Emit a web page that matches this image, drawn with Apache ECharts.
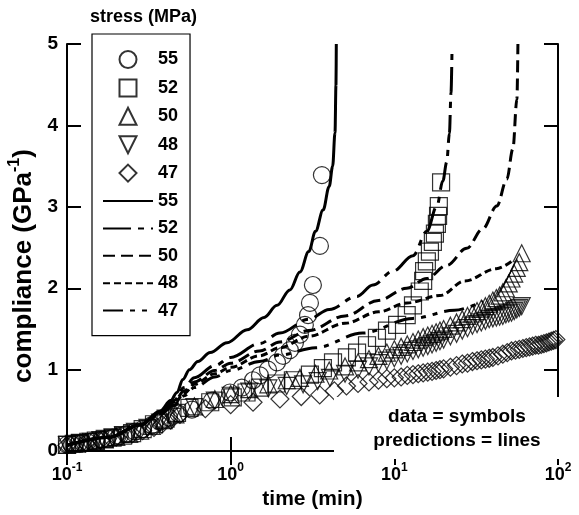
<!DOCTYPE html>
<html>
<head>
<meta charset="utf-8">
<script src="https://cdn.jsdelivr.net/npm/echarts@6/dist/echarts.min.js"></script>
<style>
  html, body { margin: 0; padding: 0; background: #fff; }
  #chart { width: 579px; height: 515px; }
</style>
</head>
<body>
<div id="chart"></div>
<script>
// Creep compliance vs. time for five stress levels: measured points and model curves.
const stressLevels = ['55', '52', '50', '48', '47'];
const xTicks = [0.1, 1, 10, 100];
const yTicks = [0, 1, 2, 3, 4, 5];

// measured compliance [time (min), compliance (GPa^-1)]
const data55 = [[0.100,0.08],[0.106,0.085],[0.112,0.09],[0.118,0.095],[0.125,0.10],[0.133,0.11],[0.142,0.12],[0.152,0.13],[0.163,0.14],[0.176,0.155],[0.19,0.165],[0.21,0.185],[0.23,0.21],[0.26,0.24],[0.29,0.27],[0.33,0.32],[0.37,0.36],[0.42,0.41],[0.48,0.46],[0.58,0.51],[0.77,0.62],[0.99,0.72],[1.17,0.78],[1.37,0.87],[1.51,0.93],[1.69,1.00],[1.92,1.09],[2.09,1.17],[2.30,1.24],[2.47,1.33],[2.65,1.43],[2.84,1.55],[2.97,1.67],[3.05,1.82],[3.18,2.04],[3.51,2.52],[3.61,3.39]];
const data52 = [[0.100,0.08],[0.11,0.09],[0.12,0.10],[0.135,0.115],[0.15,0.13],[0.17,0.15],[0.19,0.165],[0.22,0.19],[0.25,0.22],[0.29,0.27],[0.34,0.33],[0.40,0.40],[0.47,0.47],[0.56,0.53],[0.75,0.60],[1.03,0.66],[1.25,0.72],[1.51,0.78],[1.9,0.83],[2.4,0.87],[3.05,0.94],[3.66,1.02],[4.22,1.09],[5.13,1.15],[5.92,1.21],[6.81,1.30],[7.83,1.39],[9.02,1.48],[10.4,1.55],[11.9,1.67],[13.0,1.79],[14.3,1.96],[15.0,2.09],[15.2,2.21],[15.8,2.33],[16.5,2.45],[17.2,2.57],[17.7,2.67],[18.2,2.79],[18.5,2.89],[18.7,3.01],[19.3,3.30]];
const data50 = [[0.100,0.075],[0.115,0.09],[0.13,0.105],[0.15,0.125],[0.17,0.145],[0.2,0.175],[0.24,0.21],[0.28,0.25],[0.33,0.31],[0.39,0.38],[0.46,0.45],[0.6,0.55],[0.8,0.64],[1.0,0.70],[1.3,0.76],[1.7,0.82],[2.2,0.87],[2.65,0.90],[3.3,0.95],[4.0,0.99],[5,1.04],[6,1.09],[7,1.13],[8,1.17],[9,1.21],[10,1.25],[11,1.28],[12,1.31],[13,1.34],[14,1.37],[15,1.40],[16,1.42],[17,1.44],[18,1.46],[19,1.48],[20,1.50],[22,1.54],[24,1.58],[26,1.62],[28,1.66],[30,1.69],[32,1.72],[34,1.75],[36,1.78],[38,1.81],[40,1.85],[42,1.88],[44,1.91],[46,1.95],[48,2.0],[50,2.06],[52,2.12],[54,2.18],[56,2.25],[58,2.32],[60,2.43]];
const data48 = [[0.100,0.075],[0.12,0.095],[0.14,0.115],[0.16,0.135],[0.19,0.165],[0.22,0.195],[0.26,0.235],[0.31,0.285],[0.37,0.35],[0.44,0.42],[0.6,0.54],[0.8,0.62],[1.0,0.68],[1.3,0.73],[1.7,0.77],[2.2,0.80],[2.77,0.82],[3.4,0.86],[4.04,0.90],[5,0.95],[6,1.0],[7,1.04],[8,1.08],[9,1.11],[10,1.14],[11,1.17],[12,1.20],[13,1.23],[14,1.25],[15,1.27],[16,1.29],[17,1.31],[18,1.33],[19,1.35],[20,1.37],[22,1.41],[24,1.44],[26,1.48],[28,1.51],[30,1.54],[32,1.56],[34,1.58],[36,1.60],[38,1.62],[40,1.63],[42,1.64],[44,1.65],[46,1.66],[48,1.68],[50,1.69],[52,1.70],[54,1.72],[56,1.74],[58,1.76],[60,1.78]];
const data47 = [[0.10,0.07],[0.13,0.10],[0.16,0.13],[0.2,0.17],[0.25,0.21],[0.29,0.25],[0.34,0.29],[0.38,0.33],[0.43,0.38],[0.49,0.45],[0.7,0.52],[1.0,0.57],[1.37,0.60],[2.0,0.64],[2.7,0.67],[3.5,0.69],[4.3,0.74],[5.1,0.80],[6,0.83],[7,0.85],[8,0.87],[9,0.89],[10,0.90],[11,0.91],[12,0.93],[13,0.94],[14,0.95],[15,0.96],[16,0.97],[17,0.98],[18,0.99],[19,1.00],[20,1.01],[22,1.03],[24,1.05],[26,1.07],[28,1.08],[30,1.10],[32,1.11],[34,1.12],[36,1.13],[38,1.14],[40,1.15],[43,1.17],[46,1.19],[49,1.21],[52,1.23],[55,1.24],[58,1.25],[61,1.26],[64,1.27],[67,1.28],[70,1.29],[73,1.30],[76,1.30],[79,1.31],[82,1.32],[85,1.33],[88,1.34],[91,1.35],[94,1.36],[97,1.37]];

// model predictions [time (min), compliance (GPa^-1)]
const pred55 = [[0.1,0.07],[0.18,0.17],[0.28,0.32],[0.37,0.49],[0.43,0.62],[0.47,0.72],[0.51,0.88],[0.56,1.0],[0.63,1.10],[0.75,1.21],[0.95,1.33],[1.26,1.49],[1.6,1.64],[1.92,1.79],[2.3,1.98],[2.65,2.2],[3.0,2.45],[3.3,2.7],[3.67,2.96],[4.0,3.25],[4.2,3.5],[4.34,3.91],[4.40,4.5],[4.42,5.0]];
const pred52 = [[0.1,0.07],[0.18,0.17],[0.28,0.32],[0.37,0.48],[0.45,0.62],[0.52,0.78],[0.6,0.90],[0.8,1.05],[1,1.15],[1.5,1.32],[2,1.45],[3,1.62],[4,1.74],[5.9,1.90],[7.4,2.04],[9.8,2.21],[13,2.40],[15.8,2.70],[18.2,3.01],[19.8,3.32],[20.9,3.55],[21.7,3.9],[22.2,4.4],[22.5,4.9]];
const pred50 = [[0.1,0.07],[0.18,0.17],[0.28,0.32],[0.37,0.47],[0.45,0.60],[0.52,0.74],[0.6,0.85],[0.8,0.99],[1,1.08],[1.5,1.23],[2,1.34],[3,1.48],[5,1.66],[8,1.85],[11.9,2.0],[15.8,2.12],[20.9,2.28],[27.7,2.49],[34.7,2.73],[42.3,3.01],[48.7,3.34],[53,3.71],[56.1,4.32],[56.9,5.0]];
const pred48 = [[0.1,0.07],[0.18,0.17],[0.28,0.32],[0.37,0.46],[0.45,0.58],[0.52,0.71],[0.6,0.82],[0.8,0.95],[1,1.03],[1.5,1.17],[2,1.27],[3,1.41],[5,1.57],[8,1.71],[12,1.82],[19,1.91],[27,2.09],[42,2.24],[52,2.33]];
const pred47 = [[0.1,0.07],[0.18,0.17],[0.28,0.32],[0.37,0.45],[0.45,0.56],[0.52,0.68],[0.6,0.78],[0.8,0.91],[1,0.99],[1.5,1.10],[2,1.18],[3.3,1.27],[6.4,1.45],[13,1.63],[23.3,1.73],[34.8,1.84]];

const FONT = '"Liberation Sans", Arial, Helvetica, sans-serif';
const INK = '#000';
const CLEAR = 'rgba(0,0,0,0)';

// legend icons as paths so they keep a square aspect inside the wide legend slot
const ICON_CIRCLE = 'path://M0,50A50,50,0,1,0,100,50A50,50,0,1,0,0,50Z';
const ICON_SQUARE = 'path://M0,0L100,0L100,100L0,100Z';
const ICON_UP = 'path://M50,0L100,100L0,100Z';
const ICON_DOWN = 'path://M0,0L100,0L50,100Z';
const ICON_DIAMOND = 'path://M50,0L100,50L50,100L0,50Z';

const measured = [
  { name: '55', data: data55, symbol: 'circle', size: 17, rotate: 0, icon: ICON_CIRCLE },
  { name: '52', data: data52, symbol: 'rect', size: 17, rotate: 0, icon: ICON_SQUARE },
  { name: '50', data: data50, symbol: 'triangle', size: 17, rotate: 0, icon: ICON_UP },
  { name: '48', data: data48, symbol: 'triangle', size: 17, rotate: 180, icon: ICON_DOWN },
  { name: '47', data: data47, symbol: 'diamond', size: 18, rotate: 0, icon: ICON_DIAMOND }
];
const predicted = [
  { name: '55 ', data: pred55, dash: 'solid' },
  { name: '52 ', data: pred52, dash: [28, 7, 6, 7] },
  { name: '50 ', data: pred50, dash: [12, 6] },
  { name: '48 ', data: pred48, dash: [7, 4] },
  { name: '47 ', data: pred47, dash: [20, 7, 5, 7, 5, 7] }
];

const series = [];
measured.forEach(m => series.push({
  name: m.name,
  type: 'scatter',
  data: m.data,
  symbol: m.symbol,
  symbolSize: m.size,
  symbolRotate: m.rotate,
  itemStyle: { color: CLEAR, borderColor: INK, borderWidth: 1.2 },
  emphasis: { disabled: true },
  z: 2
}));
predicted.forEach(p => series.push({
  name: p.name,
  type: 'line',
  data: p.data,
  showSymbol: false,
  symbol: 'none',
  smooth: 0.35,
  smoothMonotone: 'x',
  lineStyle: { color: INK, width: 3, type: p.dash },
  itemStyle: { color: CLEAR, borderWidth: 0 },
  emphasis: { disabled: true },
  z: 3
}));

const legendData = measured.map(m => ({ name: m.name, icon: m.icon }))
  .concat(predicted.map(p => ({ name: p.name })));

const axisLineStyle = { color: INK, width: 2 };
const tickStyle = { show: true, inside: true, length: 14, lineStyle: { color: INK, width: 2 } };

const option = {
  animation: false,
  backgroundColor: '#fff',
  grid: { left: 67, top: 44, width: 491, height: 410 },
  xAxis: [
    {
      type: 'log', logBase: 10, min: xTicks[0], max: xTicks[xTicks.length - 1],
      position: 'bottom',
      name: 'time (min)', nameLocation: 'middle', nameGap: 36,
      nameTextStyle: { fontFamily: FONT, fontWeight: 'bold', fontSize: 21, color: INK },
      axisLine: { show: true, lineStyle: axisLineStyle },
      axisTick: tickStyle,
      minorTick: { show: false },
      splitLine: { show: false },
      axisLabel: {
        margin: 11,
        formatter: v => '{b|10}{s|' + Math.round(Math.log10(v)) + '}',
        rich: {
          b: { fontFamily: FONT, fontWeight: 'bold', fontSize: 18, color: INK, lineHeight: 22, verticalAlign: 'bottom' },
          s: { fontFamily: FONT, fontWeight: 'bold', fontSize: 12, color: INK, lineHeight: 12, verticalAlign: 'top' }
        }
      }
    },
    {
      type: 'log', logBase: 10, min: xTicks[0], max: xTicks[xTicks.length - 1],
      position: 'top',
      axisLine: { show: true, lineStyle: axisLineStyle },
      axisTick: tickStyle,
      axisLabel: { show: false },
      splitLine: { show: false }
    }
  ],
  yAxis: [
    {
      type: 'value', min: yTicks[0], max: yTicks[yTicks.length - 1], interval: 1,
      position: 'left',
      axisLine: { show: true, lineStyle: axisLineStyle },
      axisTick: tickStyle,
      splitLine: { show: false },
      axisLabel: { margin: 9, fontFamily: FONT, fontWeight: 'bold', fontSize: 19, color: INK }
    },
    {
      type: 'value', min: yTicks[0], max: yTicks[yTicks.length - 1], interval: 1,
      position: 'right',
      axisLine: { show: true, lineStyle: axisLineStyle },
      axisTick: tickStyle,
      axisLabel: { show: false },
      splitLine: { show: false }
    }
  ],
  legend: {
    orient: 'vertical',
    left: 92, top: 34,
    padding: [16, 12, 16, 10],
    itemWidth: 50, itemHeight: 17, itemGap: 9.4,
    backgroundColor: '#fff',
    borderColor: INK, borderWidth: 1.2,
    selectedMode: false,
    symbolRotate: 0,
    data: legendData,
    formatter: n => n.trim(),
    textStyle: { fontFamily: FONT, fontWeight: 'bold', fontSize: 18, color: INK }
  },
  graphic: [
    {
      type: 'text', left: 90, top: 8, z: 10,
      style: { text: 'stress (MPa)', font: 'bold 18px ' + FONT, fill: INK }
    },
    {
      // vertical axis title
      type: 'text', x: 22, y: 266, rotation: Math.PI / 2, z: 10,
      style: {
        text: '{b|compliance (GPa}{s|-1}{b|)}',
        align: 'center', verticalAlign: 'middle',
        rich: {
          b: { fontFamily: FONT, fontWeight: 'bold', fontSize: 26, fill: INK, lineHeight: 30, verticalAlign: 'bottom' },
          s: { fontFamily: FONT, fontWeight: 'bold', fontSize: 16, fill: INK, lineHeight: 16, verticalAlign: 'top' }
        }
      }
    },
    {
      type: 'rect', z: 100, silent: true,
      shape: { x: 334, y: 397, width: 245, height: 62 },
      style: { fill: '#fff' }
    },
    {
      type: 'text', z: 101, x: 457, y: 417,
      style: { text: 'data = symbols', font: 'bold 19px ' + FONT, fill: INK, align: 'center', verticalAlign: 'middle' }
    },
    {
      type: 'text', z: 101, x: 457, y: 441,
      style: { text: 'predictions = lines', font: 'bold 19px ' + FONT, fill: INK, align: 'center', verticalAlign: 'middle' }
    }
  ],
  series: series
};

const chart = echarts.init(document.getElementById('chart'), null, { renderer: 'canvas' });
chart.setOption(option);
</script>
</body>
</html>
